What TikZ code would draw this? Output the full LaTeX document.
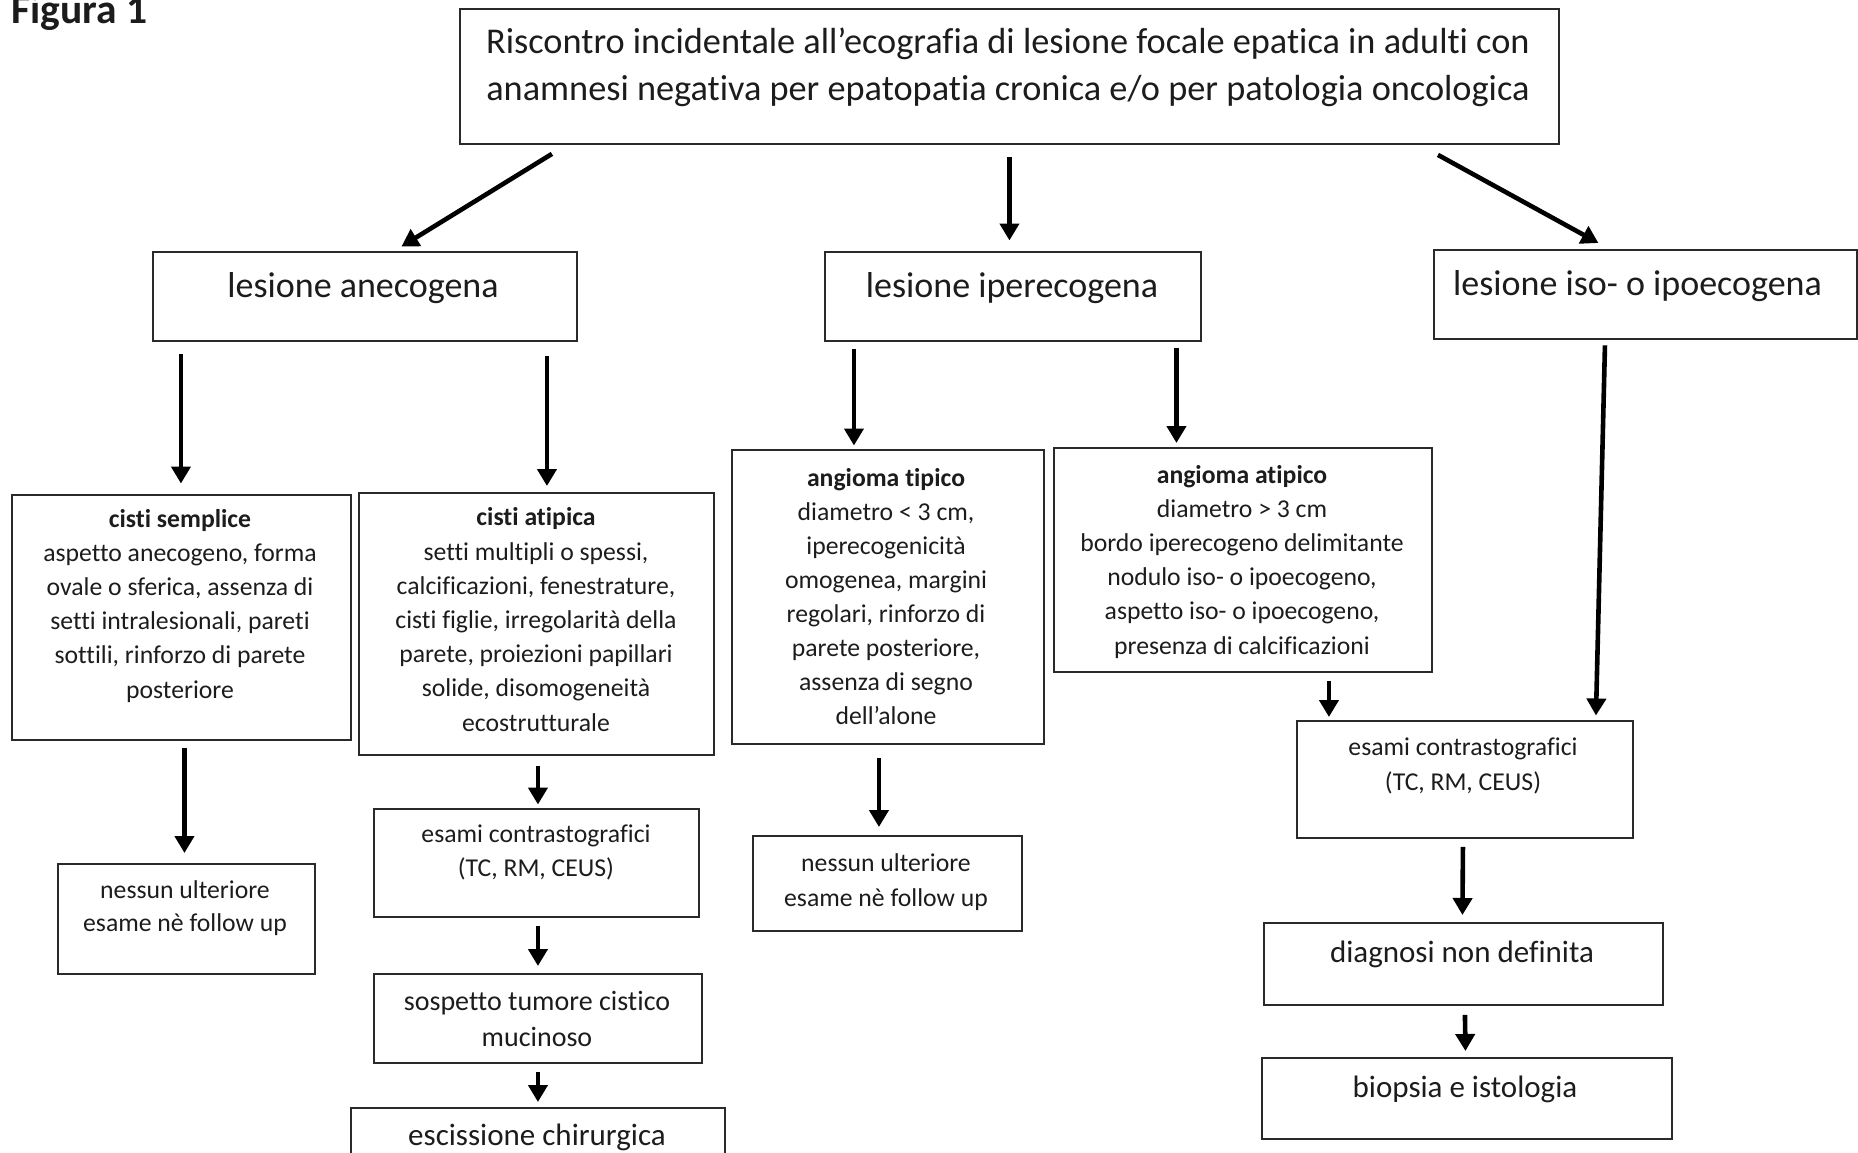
\documentclass[tikz,border=0pt]{standalone}
\usepackage{fontspec}
\setmainfont[Ligatures=NoCommon]{Carlito}
\usetikzlibrary{arrows.meta,calc}
\definecolor{ink}{HTML}{1C1C1C}
\definecolor{frame}{HTML}{2A2A2A}
\begin{document}
\begin{tikzpicture}[x=1pt,y=-1pt,
  box/.style={draw=frame, line width=1.9pt, inner sep=0pt, anchor=north west},
  txt/.style={align=center, inner sep=0pt, anchor=base, text=ink},
  small/.style={font=\fontsize{25.7}{34.2}\selectfont},
  mid/.style={font=\fontsize{31}{40}\selectfont},
  big/.style={font=\fontsize{36}{44}\selectfont},
  arr/.style={draw=black, line width=4.6pt, -{Triangle[length=17pt,width=19pt]}}
]
\useasboundingbox (0,0) rectangle (1858,1153);

\node[anchor=base west, inner sep=0pt, text=ink, font=\bfseries\fontsize{41.5}{48}\selectfont] (fig) at (11,23.5) {Figura 1};

% boxes
\node[box, minimum width=1099pt, minimum height=135pt] (T) at (459,8) {};
\node[box, minimum width=424pt, minimum height=89pt] (A) at (152,251) {};
\node[box, minimum width=376pt, minimum height=89pt] (B) at (824,251) {};
\node[box, minimum width=423pt, minimum height=89pt] (C) at (1433,249) {};
\node[box, minimum width=339pt, minimum height=245pt] (D1) at (11,494) {};
\node[box, minimum width=355pt, minimum height=262pt] (D2) at (358,492) {};
\node[box, minimum width=257pt, minimum height=110pt] (E1) at (57,863) {};
\node[box, minimum width=325pt, minimum height=108pt] (F1) at (373,808) {};
\node[box, minimum width=328pt, minimum height=89pt] (G1) at (373,973) {};
\node[box, minimum width=374pt, minimum height=70pt] (H1) at (350,1107) {};
\node[box, minimum width=312pt, minimum height=294pt] (P1) at (731,449) {};
\node[box, minimum width=378pt, minimum height=224pt] (P2) at (1053,447) {};
\node[box, minimum width=269pt, minimum height=95pt] (Q1) at (752,835) {};
\node[box, minimum width=336pt, minimum height=117pt] (R1) at (1296,720) {};
\node[box, minimum width=399pt, minimum height=82pt] (R2) at (1263,922) {};
\node[box, minimum width=410pt, minimum height=81pt] (R3) at (1261,1057) {};

% texts (anchor=base is the baseline of the last line)
\node[txt, font=\fontsize{36.3}{47.4}\selectfont] (Tt) at (1008,100.5) {Riscontro incidentale all’ecografia di lesione focale epatica in adulti con\\anamnesi negativa per epatopatia cronica e/o per patologia oncologica};
\node[txt, big] (At) at (363,297) {lesione anecogena};
\node[txt, big] (Bt) at (1012,297) {lesione iperecogena};
\node[txt, big, anchor=base west] (Ct) at (1453,295) {lesione iso- o ipoecogena};
\node[txt, small] (D1t) at (180,698) {\textbf{cisti semplice}\\aspetto anecogeno, forma\\ovale o sferica, assenza di\\setti intralesionali, pareti\\sottili, rinforzo di parete\\posteriore};
\node[txt, small] (D2t) at (536,731) {\textbf{cisti atipica}\\setti multipli o spessi,\\calcificazioni, fenestrature,\\cisti figlie, irregolarità della\\parete, proiezioni papillari\\solide, disomogeneità\\ecostrutturale};
\node[txt, font=\fontsize{25.7}{33}\selectfont] (E1t) at (185,931) {nessun ulteriore\\esame nè follow up};
\node[txt, small] (F1t) at (536,876.5) {esami contrastografici\\(TC, RM, CEUS)};
\node[txt, font=\fontsize{28}{36}\selectfont] (G1t) at (537,1046) {sospetto tumore cistico\\mucinoso};
\node[txt, mid] (H1t) at (537,1145) {escissione chirurgica};
\node[txt, small, font=\fontsize{25.7}{34}\selectfont] (P1t) at (886,724) {\textbf{angioma tipico}\\diametro < 3 cm,\\iperecogenicità\\omogenea, margini\\regolari, rinforzo di\\parete posteriore,\\assenza di segno\\dell’alone};
\node[txt, small] (P2t) at (1242,654) {\textbf{angioma atipico}\\diametro > 3 cm\\bordo iperecogeno delimitante\\nodulo iso- o ipoecogeno,\\aspetto iso- o ipoecogeno,\\presenza di calcificazioni};
\node[txt, small] (Q1t) at (886,906) {nessun ulteriore\\esame nè follow up};
\node[txt, small] (R1t) at (1463,790) {esami contrastografici\\(TC, RM, CEUS)};
\node[txt, mid] (R2t) at (1462,962) {diagnosi non definita};
\node[txt, mid] (R3t) at (1465,1097) {biopsia e istologia};

% connectors
\draw[arr] ($(T.south)+(-457.5,9)$) -- ($(A.north)+(36.5,-4.5)$);
\draw[arr] ($(T.south)+(0,12)$) -- ($(B.north)+(-3.5,-10.5)$);
\draw[arr] ($(T.south)+(428.5,10)$) -- ($(C.north)+(-47,-6)$);
\draw[arr] ($(A.south)+(-184,12)$) -- ($(D1.north)+(-0.5,-10.5)$);
\draw[arr] ($(A.south)+(182,14)$) -- ($(D2.north)+(10.5,-6)$);
\draw[arr] ($(D1.south)+(3,7.5)$) -- ($(E1.north)+(-2,-10)$);
\draw[arr] ($(D2.south)+(1.5,10)$) -- ($(F1.north)+(1.5,-3.5)$);
\draw[arr] ($(F1.south)+(1.5,8)$) -- ($(G1.north)+(0,-7)$);
\draw[arr] ($(G1.south)+(0,8)$) -- ($(H1.north)+(0,-5)$);
\draw[arr] ($(B.south)+(-159,7)$) -- ($(P1.north)+(-34,-3.5)$);
\draw[arr] ($(B.south)+(163.5,6)$) -- ($(P2.north)+(-66.5,-4)$);
\draw[arr] ($(P1.south)+(-9,13)$) -- ($(Q1.north)+(-8.5,-8)$);
\draw[arr] ($(P2.south)+(86,8)$) -- ($(R1.north)+(-136,-3)$);
\draw[arr] ($(C.south)+(-40.5,5.5)$) -- ($(R1.north)+(131,-4.5)$);
\draw[arr] ($(R1.south)+(-2,8)$) -- ($(R2.north)+(-1,-7)$);
\draw[arr] ($(R2.south)+(1.5,9)$) -- ($(R3.north)+(-1.5,-6)$);
\end{tikzpicture}
\end{document}
